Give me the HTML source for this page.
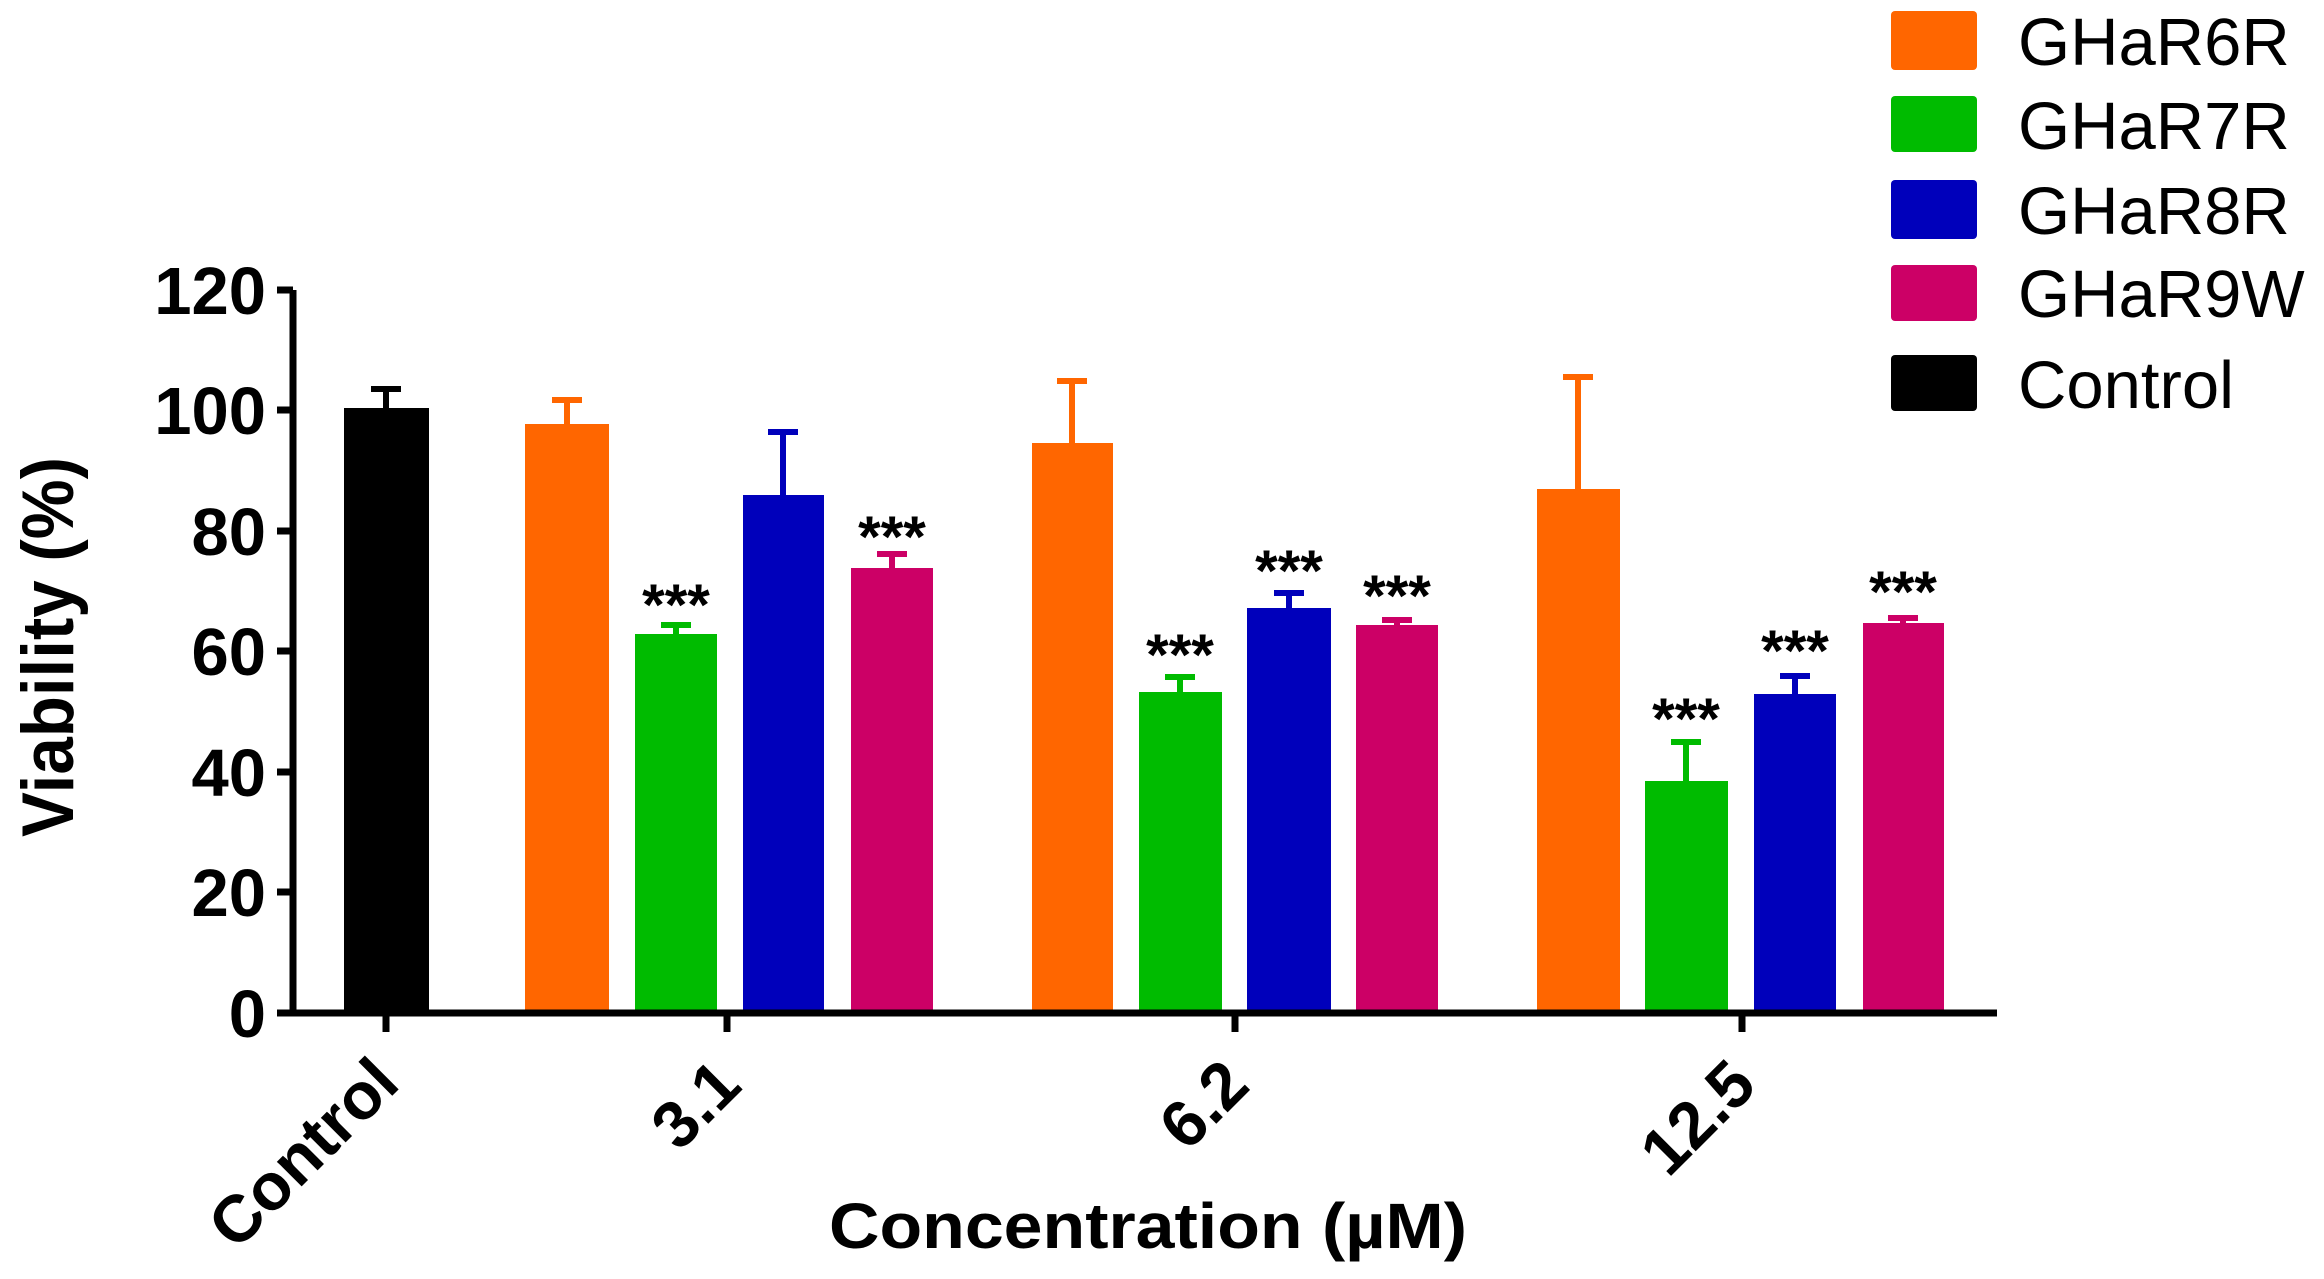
<!DOCTYPE html>
<html><head><meta charset="utf-8"><style>html,body{margin:0;padding:0;background:#fff}svg{display:block}</style></head><body>
<svg width="2324" height="1279" viewBox="0 0 2324 1279" xmlns="http://www.w3.org/2000/svg" font-family="Liberation Sans, Arial, sans-serif">
<rect width="2324" height="1279" fill="#fff"/>
<g>
<rect x="344" y="408" width="85" height="604" fill="#000"/>
<rect x="525" y="424" width="84" height="588" fill="#ff6600"/>
<rect x="635" y="634" width="82" height="378" fill="#00bb00"/>
<rect x="743" y="495" width="81" height="517" fill="#0000bb"/>
<rect x="851" y="568" width="82" height="444" fill="#cc0066"/>
<rect x="1032" y="443" width="81" height="569" fill="#ff6600"/>
<rect x="1139" y="692" width="83" height="320" fill="#00bb00"/>
<rect x="1247" y="608" width="84" height="404" fill="#0000bb"/>
<rect x="1356" y="625" width="82" height="387" fill="#cc0066"/>
<rect x="1537" y="489" width="83" height="523" fill="#ff6600"/>
<rect x="1645" y="781" width="83" height="231" fill="#00bb00"/>
<rect x="1754" y="694" width="82" height="318" fill="#0000bb"/>
<rect x="1863" y="623" width="81" height="389" fill="#cc0066"/>
</g>
<g stroke-width="6" fill="none">
<path d="M386 408V386M371 389H401" stroke="#000"/>
<path d="M567 424V398M552 400H582" stroke="#ff6600"/>
<path d="M676 634V623M661 625H691" stroke="#00bb00"/>
<path d="M783 495V430M768 432H798" stroke="#0000bb"/>
<path d="M892 568V552M877 554H907" stroke="#cc0066"/>
<path d="M1072 443V379M1057 381H1087" stroke="#ff6600"/>
<path d="M1180 692V675M1165 677H1195" stroke="#00bb00"/>
<path d="M1289 608V591M1274 593H1304" stroke="#0000bb"/>
<path d="M1397 625V618M1382 620H1412" stroke="#cc0066"/>
<path d="M1578 489V375M1563 377H1593" stroke="#ff6600"/>
<path d="M1686 781V740M1671 742H1701" stroke="#00bb00"/>
<path d="M1795 694V674M1780 676H1810" stroke="#0000bb"/>
<path d="M1903 623V616M1888 618H1918" stroke="#cc0066"/>
</g>
<g font-size="58" font-weight="bold" text-anchor="middle" fill="#000">
<text x="676" y="625">***</text>
<text x="892" y="557">***</text>
<text x="1180" y="675">***</text>
<text x="1289" y="591">***</text>
<text x="1397" y="616">***</text>
<text x="1686" y="739">***</text>
<text x="1795" y="671">***</text>
<text x="1903" y="612">***</text>
</g>
<g stroke="#000" stroke-width="7" fill="none">
<path d="M293 290V1016"/>
<path d="M290 1013H1997"/>
<path d="M277 290H293M277 410H293M277 531H293M277 651H293M277 772H293M277 892H293M277 1013H293"/>
<path d="M386 1013V1032M727 1013V1032M1235 1013V1032M1742 1013V1032"/>
</g>
<g font-size="67" font-weight="bold" text-anchor="end" fill="#000">
<text x="266" y="314">120</text>
<text x="266" y="434">100</text>
<text x="266" y="555">80</text>
<text x="266" y="675">60</text>
<text x="266" y="796">40</text>
<text x="266" y="916">20</text>
<text x="266" y="1037">0</text>
</g>
<g font-size="66" font-weight="bold" text-anchor="end" fill="#000">
<text transform="translate(402,1086) rotate(-45)">Control</text>
<text transform="translate(744,1088) rotate(-45)">3.1</text>
<text transform="translate(1252,1088) rotate(-45)">6.2</text>
<text transform="translate(1759,1088) rotate(-45)">12.5</text>
</g>
<text x="829" y="1248" font-size="64" font-weight="bold" textLength="638" lengthAdjust="spacingAndGlyphs">Concentration (µM)</text>
<text transform="translate(73,647) rotate(-90)" font-size="73" font-weight="bold" text-anchor="middle" textLength="380" lengthAdjust="spacingAndGlyphs">Viability (%)</text>
<rect x="1891" y="11" width="86" height="59" rx="4" fill="#ff6600"/>
<rect x="1891" y="96" width="86" height="56" rx="4" fill="#00bb00"/>
<rect x="1891" y="180" width="86" height="59" rx="4" fill="#0000bb"/>
<rect x="1891" y="265" width="86" height="56" rx="4" fill="#cc0066"/>
<rect x="1891" y="355" width="86" height="56" rx="4" fill="#000"/>
<g font-size="67" fill="#000">
<text x="2018" y="65">GHaR6R</text>
<text x="2018" y="149">GHaR7R</text>
<text x="2018" y="234">GHaR8R</text>
<text x="2018" y="317">GHaR9W</text>
<text x="2018" y="408">Control</text>
</g>
</svg>
</body></html>
